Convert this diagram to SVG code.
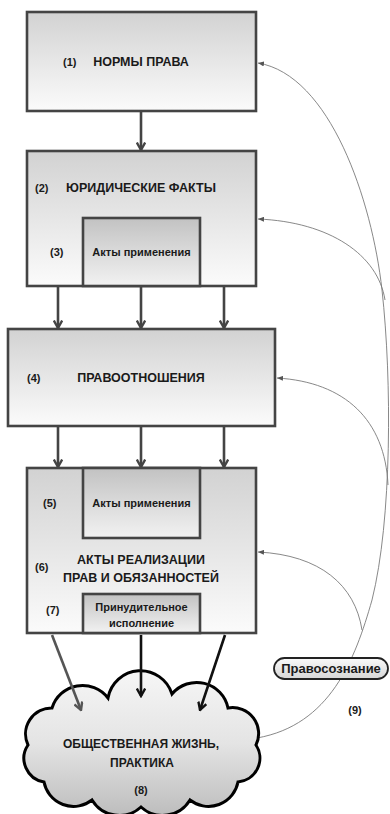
<svg xmlns="http://www.w3.org/2000/svg" width="390" height="814" viewBox="0 0 390 814">
<style>
.box{stroke:#444;stroke-width:2.6;fill:url(#gBox)}
.inner{stroke:#444;stroke-width:2.6;fill:url(#gIn)}
.t{font-family:"Liberation Sans",Arial,sans-serif;font-weight:bold;fill:#1a1a1a}
.big{font-size:12.5px}
.mid{font-size:11px}
.num{font-size:11px}
.thick{stroke:#444;stroke-width:2.6;fill:none;marker-end:url(#chev)}
.thin{stroke:#7a7a7a;stroke-width:0.9;fill:none}
.arr{marker-end:url(#tri)}
</style>
<defs>
<linearGradient id="gBox" x1="0" y1="0" x2="0" y2="1">
<stop offset="0" stop-color="#d2d2d2"/><stop offset="1" stop-color="#fbfbfb"/>
</linearGradient>
<linearGradient id="gIn" x1="0" y1="0" x2="0" y2="1">
<stop offset="0" stop-color="#c2c2c2"/><stop offset="1" stop-color="#f2f2f2"/>
</linearGradient>
<linearGradient id="gCloud" x1="0" y1="0" x2="0" y2="1">
<stop offset="0" stop-color="#f6f6f6"/><stop offset="0.5" stop-color="#e4e4e4"/><stop offset="1" stop-color="#bdbdbd"/>
</linearGradient>
<linearGradient id="gPill" x1="0" y1="0" x2="0" y2="1">
<stop offset="0" stop-color="#fafafa"/><stop offset="1" stop-color="#d6d6d6"/>
</linearGradient>
<marker id="chev" viewBox="0 0 10 10" refX="8.5" refY="5" markerWidth="10" markerHeight="10" markerUnits="userSpaceOnUse" orient="auto">
<path d="M1,0.8 L8.5,5 L1,9.2" fill="none" stroke="#444" stroke-width="2.4"/>
</marker>
<marker id="chevK" viewBox="0 0 10 10" refX="8.5" refY="5" markerWidth="10" markerHeight="10" markerUnits="userSpaceOnUse" orient="auto">
<path d="M1,0.8 L8.5,5 L1,9.2" fill="none" stroke="#111" stroke-width="2.4"/>
</marker>
<marker id="chevG" viewBox="0 0 10 10" refX="8.5" refY="5" markerWidth="10" markerHeight="10" markerUnits="userSpaceOnUse" orient="auto">
<path d="M1,0.8 L8.5,5 L1,9.2" fill="none" stroke="#555" stroke-width="2.4"/>
</marker>
<marker id="tri" viewBox="0 0 10 10" refX="10" refY="5" markerWidth="6" markerHeight="5" markerUnits="userSpaceOnUse" orient="auto" preserveAspectRatio="none">
<path d="M0,0 L10,5 L0,10 Z" fill="#555"/>
</marker>
</defs>

<g id="connectors">
<line class="thick" x1="141" y1="112" x2="141" y2="150"/>
<line class="thick" x1="58" y1="287" x2="58" y2="328"/>
<line class="thick" x1="141" y1="287" x2="141" y2="328"/>
<line class="thick" x1="224" y1="287" x2="224" y2="328"/>
<line class="thick" x1="58" y1="427" x2="58" y2="467"/>
<line class="thick" x1="141" y1="427" x2="141" y2="467"/>
<line class="thick" x1="224" y1="427" x2="224" y2="467"/>
<path class="thin arr" d="M257,738 C330,725 355,660 372,600 C392,520 392,380 382,290 C372,200 330,75 258,63"/>
<path class="thin arr" d="M385,300 C378,255 330,222 258,219"/>
<path class="thin arr" d="M388,485 C385,420 345,382 277,378"/>
<path class="thin arr" d="M362,630 C355,585 320,555 258,552"/>
</g>

<g id="n1">
<rect class="box" x="27" y="12" width="229" height="99"/>
<text class="t num" x="63" y="66">(1)</text>
<text class="t big" x="141" y="66" text-anchor="middle">НОРМЫ ПРАВА</text>
</g>

<g id="n2">
<rect class="box" x="27" y="151" width="229" height="135"/>
<text class="t num" x="35" y="192">(2)</text>
<text class="t big" x="141" y="192" text-anchor="middle">ЮРИДИЧЕСКИЕ ФАКТЫ</text>
</g>
<g id="n3">
<rect class="inner" x="83" y="218" width="117" height="68"/>
<text class="t num" x="50" y="256">(3)</text>
<text class="t mid" x="141.5" y="256" text-anchor="middle">Акты применения</text>
</g>

<g id="n4">
<rect class="box" x="8" y="329" width="267" height="97"/>
<text class="t num" x="27" y="382">(4)</text>
<text class="t big" x="141" y="382" text-anchor="middle">ПРАВООТНОШЕНИЯ</text>
</g>

<g id="n6">
<rect class="box" x="27" y="468" width="229" height="165"/>
<text class="t num" x="35" y="571">(6)</text>
<text class="t big" x="141" y="564" text-anchor="middle">АКТЫ РЕАЛИЗАЦИИ</text>
<text class="t big" x="141" y="582" text-anchor="middle">ПРАВ И ОБЯЗАННОСТЕЙ</text>
</g>
<g id="n5">
<rect class="inner" x="83" y="468" width="117" height="70"/>
<text class="t num" x="43" y="507">(5)</text>
<text class="t mid" x="141.5" y="507" text-anchor="middle">Акты применения</text>
</g>
<g id="n7">
<rect class="inner" x="83" y="594" width="117" height="39"/>
<text class="t num" x="46" y="614">(7)</text>
<text class="t mid" x="141.5" y="611" text-anchor="middle">Принудительное</text>
<text class="t mid" x="141.5" y="627" text-anchor="middle">исполнение</text>
</g>

<g id="n8">
<path d="M28,745 A26,26 0 0 1 52,708 A32,32 0 0 1 108,698 A33,33 0 0 1 172,694 A32,32 0 0 1 228,708 A26,26 0 0 1 256,745 A24,24 0 0 1 238,782 A30,30 0 0 1 190,800 A32,32 0 0 1 141,807 A32,32 0 0 1 92,800 A30,30 0 0 1 44,782 A24,24 0 0 1 28,745 Z" fill="url(#gCloud)" stroke="#000" stroke-width="3"/>
<text class="t big" x="141" y="748" text-anchor="middle" style="font-size:12px">ОБЩЕСТВЕННАЯ ЖИЗНЬ,</text>
<text class="t big" x="142" y="767" text-anchor="middle" style="font-size:12px">ПРАКТИКА</text>
<text class="t num" x="141" y="794" text-anchor="middle">(8)</text>
</g>

<g id="cloud-arrows">
<line x1="52" y1="635" x2="81" y2="710" stroke="#555" stroke-width="2.6" marker-end="url(#chevG)"/>
<line x1="141" y1="635" x2="141" y2="696" stroke="#111" stroke-width="2.6" marker-end="url(#chevK)"/>
<line x1="225" y1="635" x2="200" y2="710" stroke="#111" stroke-width="2.6" marker-end="url(#chevK)"/>
</g>

<g id="n9">
<rect x="274" y="658" width="114" height="21" rx="10.5" fill="url(#gPill)" stroke="#222" stroke-width="1.8"/>
<text class="t" x="331" y="673" text-anchor="middle" style="font-size:13px">Правосознание</text>
<text class="t num" x="355" y="714" text-anchor="middle">(9)</text>
</g>
</svg>
